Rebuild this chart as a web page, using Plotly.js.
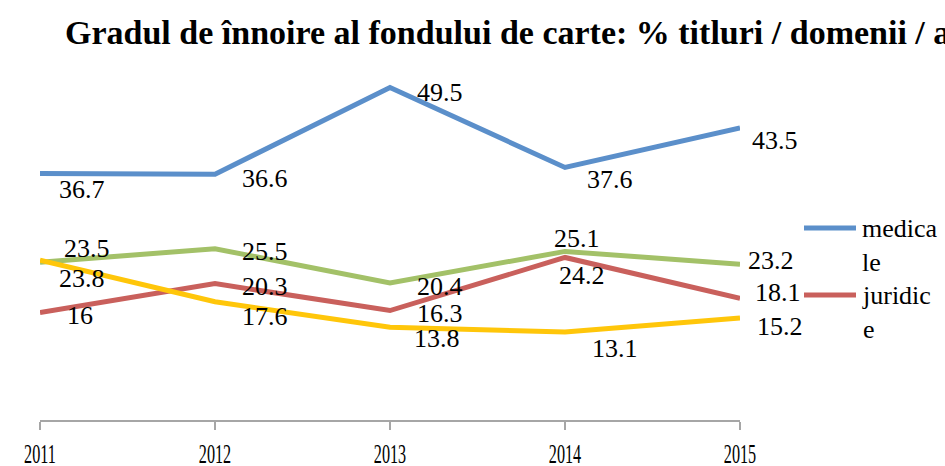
<!DOCTYPE html>
<html>
<head>
<meta charset="utf-8">
<script src="https://cdn.plot.ly/plotly-3.0.1.min.js"></script>
<style>html,body{margin:0;padding:0;background:#fff;}#chart{width:945px;height:466px;}</style>
</head>
<body>
<div id="chart"></div>
<script>
// ---- data ----
const years = [2011, 2012, 2013, 2014, 2015];
const yearLabels = ["2011", "2012", "2013", "2014", "2015"];
const medicale = [36.7, 36.6, 49.5, 37.6, 43.5];
const juridice = [16, 20.3, 16.3, 24.2, 18.1];
const serie3 = [23.5, 25.5, 20.4, 25.1, 23.2];
const serie4 = [23.8, 17.6, 13.8, 13.1, 15.2];
const seriesNames = ["medicale", "juridice", "serie 3", "serie 4"];
const legendLabels = ["medica<br>le", "juridic<br>e"];
const titleText = "Gradul de înnoire al fondului de carte: % titluri / domenii / ani";

// ---- styles ----
const colors = ["#5B8FCA", "#C9605C", "#A3C168", "#FFC60A"];
const seriesData = [medicale, juridice, serie3, serie4];
// label offsets in px (dx right, dy down)
const labelOffsets = [
  [[42,16],[50,4],[50,5],[45,12],[35,13]],
  [[40,3],[50,3],[50,3],[17,18],[38,-6]],
  [[47,-14],[50,3],[50,4],[12,-13],[31,-4]],
  [[42,18],[50,15],[47,11],[50,16],[40,9]]
];
const serif = "Liberation Serif, Times New Roman, serif";

const traces = seriesData.map((vals, i) => ({
  x: years, y: vals, name: seriesNames[i], type: "scatter", mode: "lines",
  line: {color: colors[i], width: 5}, showlegend: false, hoverinfo: "skip"
}));

const annotations = [];
seriesData.forEach((vals, i) => {
  vals.forEach((v, j) => {
    annotations.push({
      x: years[j], y: v, xref: "x", yref: "y", text: String(v), showarrow: false,
      xanchor: "center", yanchor: "middle",
      xshift: labelOffsets[i][j][0], yshift: -labelOffsets[i][j][1],
      font: {family: serif, size: 26, color: "#000"}
    });
  });
});
// title
annotations.push({
  xref: "paper", yref: "paper", x: (63-40)/700, y: (420-32)/403,
  xanchor: "left", yanchor: "middle", showarrow: false, text: "<b>" + titleText + "</b>",
  font: {family: serif, size: 34, color: "#000"}
});
// legend
const legendY = [228, 295];
const shapes = [];
legendLabels.forEach((lab, k) => {
  shapes.push({type: "line", xref: "paper", yref: "paper",
    x0: (804-40)/700, x1: (856-40)/700, y0: (420-legendY[k])/403, y1: (420-legendY[k])/403,
    line: {color: colors[k], width: 5}});
  annotations.push({xref: "paper", yref: "paper", x: (860-40)/700, y: (420-legendY[k]-17)/403,
    xanchor: "left", yanchor: "middle", align: "left", showarrow: false, text: lab,
    font: {family: serif, size: 26, color: "#000"}});
});

const layout = {
  width: 945, height: 466,
  margin: {l: 40, r: 205, t: 17, b: 46, pad: 0},
  paper_bgcolor: "#fff", plot_bgcolor: "#fff",
  showlegend: false,
  xaxis: {type: "linear", range: [2011, 2015], tickmode: "array", tickvals: years, ticktext: yearLabels,
    showgrid: false, zeroline: false,
    showline: true, linecolor: "#A6A6A6", linewidth: 2,
    ticks: "outside", ticklen: 8, tickwidth: 2, tickcolor: "#A6A6A6",
    tickfont: {family: serif, size: 27, color: "#000"}, ticklabelstandoff: 1},
  yaxis: {range: [0, 60], visible: false, showgrid: false, zeroline: false},
  annotations: annotations, shapes: shapes
};

Plotly.newPlot("chart", traces, layout, {staticPlot: true, displayModeBar: false}).then(gd => {
  // condensed look of the year labels
  gd.querySelectorAll(".xtick text").forEach(t => {
    const tr = t.getAttribute("transform") || "";
    t.setAttribute("transform", tr + " scale(0.6,1)");
  });
});
</script>
</body>
</html>
